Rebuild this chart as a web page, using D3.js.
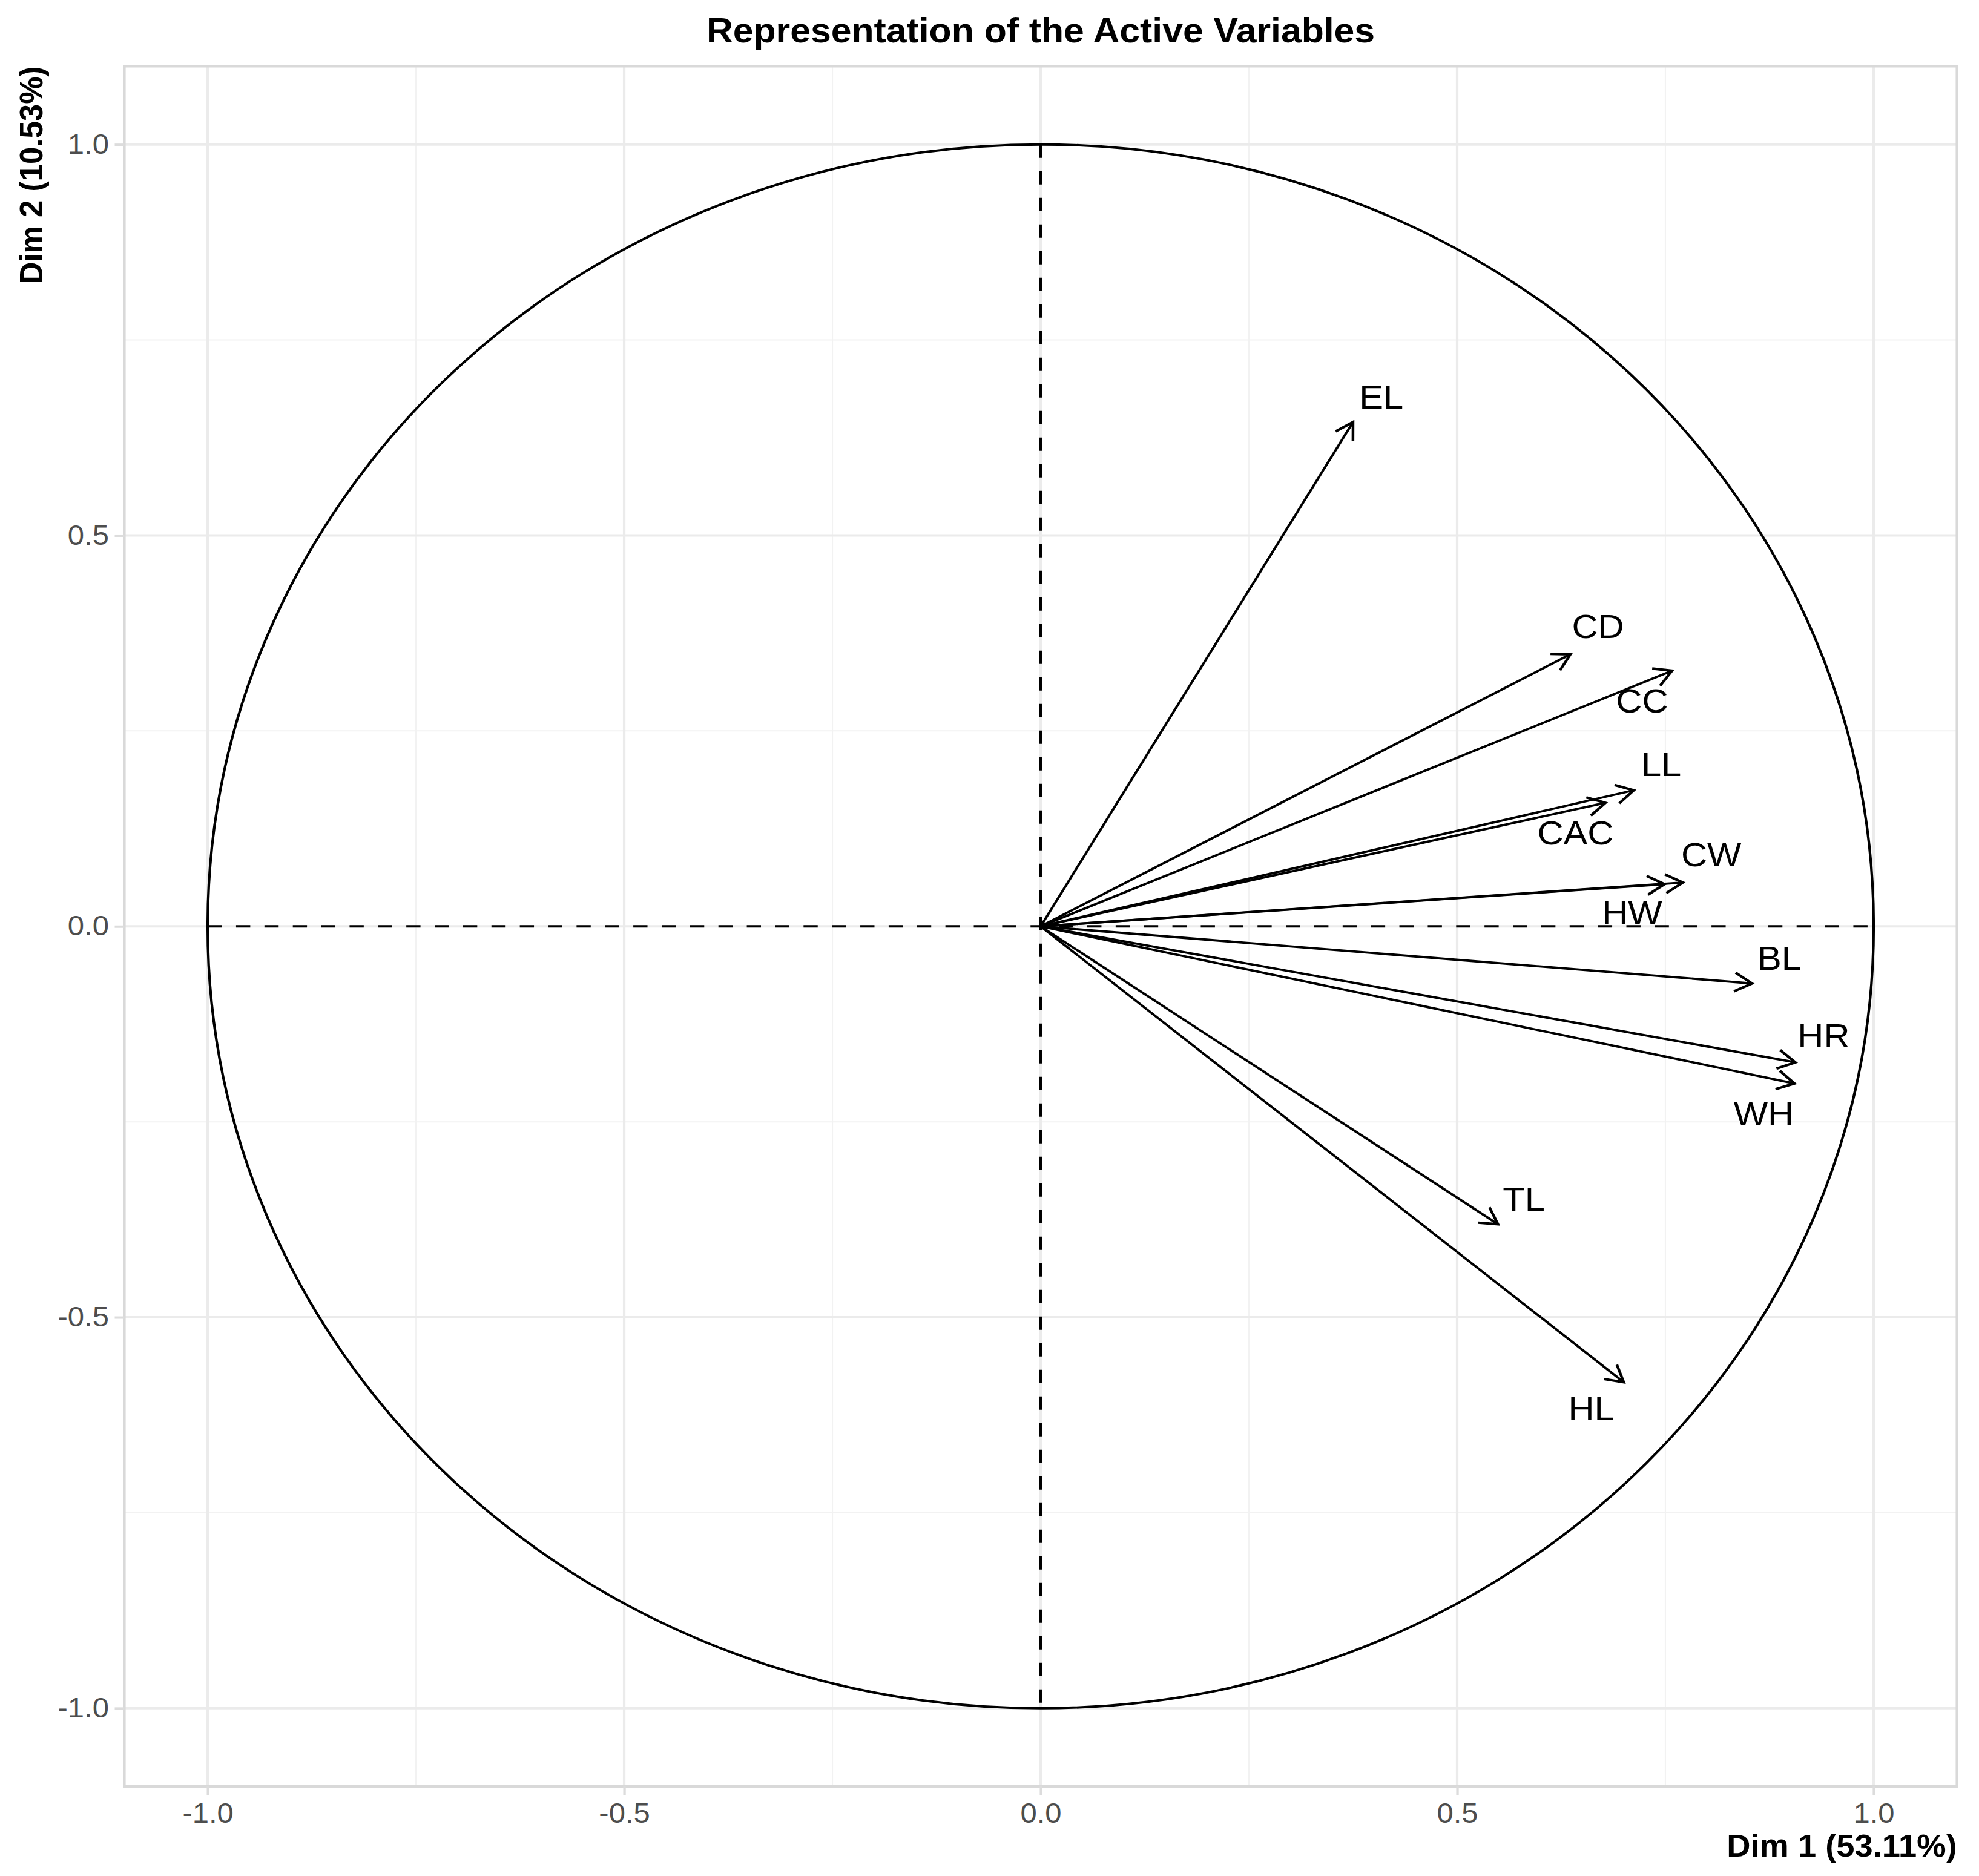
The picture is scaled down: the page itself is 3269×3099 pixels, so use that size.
<!DOCTYPE html>
<html>
<head>
<meta charset="utf-8">
<title>Representation of the Active Variables</title>
<script src="https://d3js.org/d3.v7.min.js"></script>
<style>
  html, body { margin: 0; padding: 0; background: #fff; }
  svg { display: block; }
  text { font-family: "Liberation Sans", Arial, sans-serif; }
  .tick text { fill: #4d4d4d; font-size: 46px; }
  .tick line { stroke: #dcdcdc; stroke-width: 4; }
</style>
</head>
<body>
<script>
// variables and their coordinates on Dim 1 / Dim 2
var variables = ["EL", "CD", "CC", "LL", "CAC", "CW", "HW", "BL", "HR", "WH", "TL", "HL"];
var dim1 = [0.375, 0.636, 0.758, 0.712, 0.678, 0.771, 0.749, 0.854, 0.906, 0.905, 0.549, 0.700];
var dim2 = [0.645, 0.348, 0.327, 0.174, 0.158, 0.056, 0.054, -0.073, -0.174, -0.201, -0.381, -0.583];

// repelled label positions, also in data units
var labelX = [0.409, 0.669, 0.722, 0.745, 0.642, 0.805, 0.710, 0.887, 0.940, 0.868, 0.580, 0.661];
var labelY = [0.678, 0.384, 0.289, 0.208, 0.120, 0.092, 0.018, -0.040, -0.139, -0.239, -0.348, -0.616];

var majorTicks = [-1, -0.5, 0, 0.5, 1];
var minorTicks = [-0.75, -0.25, 0.25, 0.75];

var chartTitle = "Representation of the Active Variables";
var xTitle = "Dim 1 (53.11%)";
var yTitle = "Dim 2 (10.53%)";

// the reference picture is stretched horizontally, so draw in a square
// coordinate system and let the viewBox do the stretching
var outW = 3269, outH = 3099;
var stretch = 1.0652;
var W = outW / stretch, H = outH;

var svg = d3.select("body").append("svg")
    .attr("width", outW)
    .attr("height", outH)
    .attr("viewBox", "0 0 " + W + " " + H)
    .attr("preserveAspectRatio", "none");

var xscale = d3.scaleLinear().domain([-1.1, 1.1]).range([192.9, 3034.7]);
var yscale = d3.scaleLinear().domain([-1.1, 1.1]).range([2951, 109.5]);

// panel edges (note: "top" is taken by window.top, so use other names)
var pLeft = xscale(-1.1), pRight = xscale(1.1), pTop = yscale(1.1), pBottom = yscale(-1.1);

// grid
var grid = svg.append("g");
grid.selectAll(".minor-x").data(minorTicks).enter().append("line")
    .attr("x1", d => xscale(d)).attr("x2", d => xscale(d))
    .attr("y1", pTop).attr("y2", pBottom)
    .attr("stroke", "#f2f2f2").attr("stroke-width", 2);
grid.selectAll(".minor-y").data(minorTicks).enter().append("line")
    .attr("y1", d => yscale(d)).attr("y2", d => yscale(d))
    .attr("x1", pLeft).attr("x2", pRight)
    .attr("stroke", "#f2f2f2").attr("stroke-width", 2);
grid.selectAll(".major-x").data(majorTicks).enter().append("line")
    .attr("x1", d => xscale(d)).attr("x2", d => xscale(d))
    .attr("y1", pTop).attr("y2", pBottom)
    .attr("stroke", "#ebebeb").attr("stroke-width", 4);
grid.selectAll(".major-y").data(majorTicks).enter().append("line")
    .attr("y1", d => yscale(d)).attr("y2", d => yscale(d))
    .attr("x1", pLeft).attr("x2", pRight)
    .attr("stroke", "#ebebeb").attr("stroke-width", 4);

// panel border
svg.append("rect")
    .attr("x", pLeft).attr("y", pTop)
    .attr("width", pRight - pLeft).attr("height", pBottom - pTop)
    .attr("fill", "none")
    .attr("stroke", "#d9d9d9")
    .attr("stroke-width", 4);

// axes (plain hyphen for negatives, like the original)
var fmt = function(d) { return d3.format(".1f")(d).replace("\u2212", "-"); };
var xAxis = svg.append("g")
    .attr("transform", "translate(0," + pBottom + ")")
    .call(d3.axisBottom(xscale).tickValues(majorTicks).tickFormat(fmt).tickSize(15).tickPadding(12));
xAxis.select(".domain").remove();

var yAxis = svg.append("g")
    .attr("transform", "translate(" + pLeft + ",0)")
    .call(d3.axisLeft(yscale).tickValues(majorTicks).tickFormat(fmt).tickSize(15).tickPadding(9));
yAxis.select(".domain").remove();

// correlation circle
svg.append("ellipse")
    .attr("cx", xscale(0)).attr("cy", yscale(0))
    .attr("rx", xscale(1) - xscale(0)).attr("ry", yscale(0) - yscale(1))
    .attr("fill", "none")
    .attr("stroke", "black")
    .attr("stroke-width", 4);

// dashed reference lines
svg.append("line")
    .attr("x1", xscale(-1)).attr("x2", xscale(1))
    .attr("y1", yscale(0)).attr("y2", yscale(0))
    .attr("stroke", "black").attr("stroke-width", 4)
    .attr("stroke-dasharray", "22,22");
svg.append("line")
    .attr("x1", xscale(0)).attr("x2", xscale(0))
    .attr("y1", yscale(1)).attr("y2", yscale(-1))
    .attr("stroke", "black").attr("stroke-width", 4)
    .attr("stroke-dasharray", "22,22");

// arrows
var data = variables.map(function(v, i) {
  return { name: v, x: dim1[i], y: dim2[i], lx: labelX[i], ly: labelY[i] };
});

var headLen = 31, headAngle = Math.PI / 6;

var arrows = svg.append("g");
arrows.selectAll(".shaft").data(data).enter().append("line")
    .attr("x1", xscale(0)).attr("y1", yscale(0))
    .attr("x2", d => xscale(d.x)).attr("y2", d => yscale(d.y))
    .attr("stroke", "black").attr("stroke-width", 3.8)
    .attr("stroke-linecap", "butt");

arrows.selectAll(".head").data(data).enter().append("path")
    .attr("d", function(d) {
      var tx = xscale(d.x), ty = yscale(d.y);
      var a = Math.atan2(ty - yscale(0), tx - xscale(0));
      var p1 = [tx - headLen * Math.cos(a - headAngle), ty - headLen * Math.sin(a - headAngle)];
      var p2 = [tx - headLen * Math.cos(a + headAngle), ty - headLen * Math.sin(a + headAngle)];
      return "M" + p1 + "L" + [tx, ty] + "L" + p2;
    })
    .attr("fill", "none")
    .attr("stroke", "black")
    .attr("stroke-width", 4.2)
    .attr("stroke-linejoin", "miter");

// labels
svg.append("g").selectAll("text").data(data).enter().append("text")
    .attr("x", d => xscale(d.lx))
    .attr("y", d => yscale(d.ly))
    .attr("dy", "0.358em")
    .attr("text-anchor", "middle")
    .style("font-size", "56px")
    .attr("fill", "black")
    .text(d => d.name);

// titles
svg.append("text")
    .attr("x", (pLeft + pRight) / 2)
    .attr("y", 70)
    .attr("text-anchor", "middle")
    .style("font-size", "57px")
    .style("font-weight", "bold")
    .text(chartTitle);

svg.append("text")
    .attr("x", pRight)
    .attr("y", 3067)
    .attr("text-anchor", "end")
    .style("font-size", "51px")
    .style("font-weight", "bold")
    .text(xTitle);

svg.append("text")
    .attr("transform", "translate(65.7," + pTop + ") rotate(-90)")
    .attr("text-anchor", "end")
    .style("font-size", "51px")
    .style("font-weight", "bold")
    .text(yTitle);
</script>
</body>
</html>
